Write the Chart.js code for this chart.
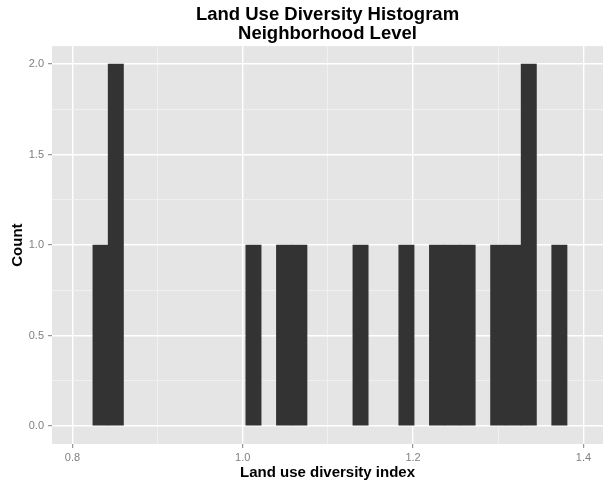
<!DOCTYPE html>
<html>
<head>
<meta charset="utf-8">
<script src="https://cdn.jsdelivr.net/npm/chart.js@4/dist/chart.umd.min.js"></script>
<style>
  html, body { margin: 0; padding: 0; background: #fff; }
  #wrap { width: 603px; height: 484px; }
</style>
</head>
<body>
<div id="wrap"><canvas id="hist"></canvas></div>
<script>
// histogram bins (31 bins)
const binStart = 0.824;
const binWidth = 0.01796;
const counts = [1, 2, 0, 0, 0, 0, 0, 0, 0, 0, 1, 0, 1, 1, 0, 0, 0, 1, 0, 0, 1, 0, 1, 1, 1, 0, 1, 1, 2, 0, 1];

const xMajor = [0.8, 1.0, 1.2, 1.4];
const xMinor = [0.9, 1.1, 1.3];
const yMajor = [0, 0.5, 1.0, 1.5, 2.0];
const yMinor = [0.25, 0.75, 1.25, 1.75];

const isMajor = (list, v) => list.some(m => Math.abs(m - v) < 1e-6);
const tickMajor = (list, c) => !!(c.tick && isMajor(list, c.tick.value));

const points = counts.map((c, i) => ({ x: binStart + binWidth * (i + 0.5), y: c }));

// grey panel behind the grid, like ggplot
const panelBg = {
  id: 'panelBg',
  beforeDraw(chart) {
    const { ctx, chartArea: a } = chart;
    ctx.save();
    ctx.fillStyle = '#E5E5E5';
    ctx.fillRect(a.left, a.top, a.right - a.left, a.bottom - a.top);
    ctx.restore();
  }
};

const tickFont = { family: 'Liberation Sans, Arial, sans-serif', size: 11 };
const titleFont = { family: 'Liberation Sans, Arial, sans-serif', size: 15, weight: 'bold' };

new Chart(document.getElementById('hist'), {
  type: 'bar',
  data: {
    datasets: [{
      data: points,
      backgroundColor: c => (c.raw && c.raw.y > 0) ? '#333333' : 'rgba(0,0,0,0)',
      borderWidth: 0,
      barPercentage: 1,
      categoryPercentage: 1
    }]
  },
  options: {
    responsive: true,
    maintainAspectRatio: false,
    animation: false,
    layout: { padding: 0 },
    plugins: {
      legend: { display: false },
      tooltip: { enabled: false },
      title: {
        display: true,
        fullSize: false,
        text: ['Land Use Diversity Histogram', 'Neighborhood Level'],
        color: '#000',
        font: { family: 'Liberation Sans, Arial, sans-serif', size: 18.5, weight: 'bold', lineHeight: 1.03 },
        padding: { top: 5, bottom: 3 }
      }
    },
    scales: {
      x: {
        type: 'linear',
        offset: false,
        min: 0.776,
        max: 1.423,
        afterBuildTicks: axis => { axis.ticks = xMajor.concat(xMinor).sort((a, b) => a - b).map(v => ({ value: v })); },
        afterFit: axis => { axis.height = 40; },
        ticks: {
          autoSkip: false,
          maxRotation: 0,
          padding: 3,
          color: '#7F7F7F',
          font: tickFont,
          callback: v => isMajor(xMajor, v) ? v.toFixed(1) : ''
        },
        grid: {
          offset: false,
          color: c => tickMajor(xMajor, c) ? '#FFFFFF' : '#F2F2F2',
          lineWidth: c => tickMajor(xMajor, c) ? 1.4 : 0.8,
          tickColor: c => tickMajor(xMajor, c) ? '#7F7F7F' : 'rgba(0,0,0,0)',
          tickLength: 4,
          tickWidth: 1
        },
        border: { display: false },
        title: {
          display: true,
          text: 'Land use diversity index',
          color: '#000',
          font: titleFont,
          padding: { top: 0, bottom: 2 }
        }
      },
      y: {
        type: 'linear',
        min: -0.1,
        max: 2.1,
        afterBuildTicks: axis => { axis.ticks = yMajor.concat(yMinor).sort((a, b) => a - b).map(v => ({ value: v })); },
        afterFit: axis => { axis.width = 52; },
        ticks: {
          autoSkip: false,
          padding: 4,
          color: '#7F7F7F',
          font: tickFont,
          callback: v => isMajor(yMajor, v) ? v.toFixed(1) : ''
        },
        grid: {
          offset: false,
          color: c => tickMajor(yMajor, c) ? '#FFFFFF' : '#F2F2F2',
          lineWidth: c => tickMajor(yMajor, c) ? 1.4 : 0.8,
          tickColor: c => tickMajor(yMajor, c) ? '#7F7F7F' : 'rgba(0,0,0,0)',
          tickLength: 4,
          tickWidth: 1
        },
        border: { display: false },
        title: {
          display: true,
          text: 'Count',
          color: '#000',
          font: titleFont,
          padding: { top: 9, bottom: 0 }
        }
      }
    }
  },
  plugins: [panelBg]
});
</script>
</body>
</html>
